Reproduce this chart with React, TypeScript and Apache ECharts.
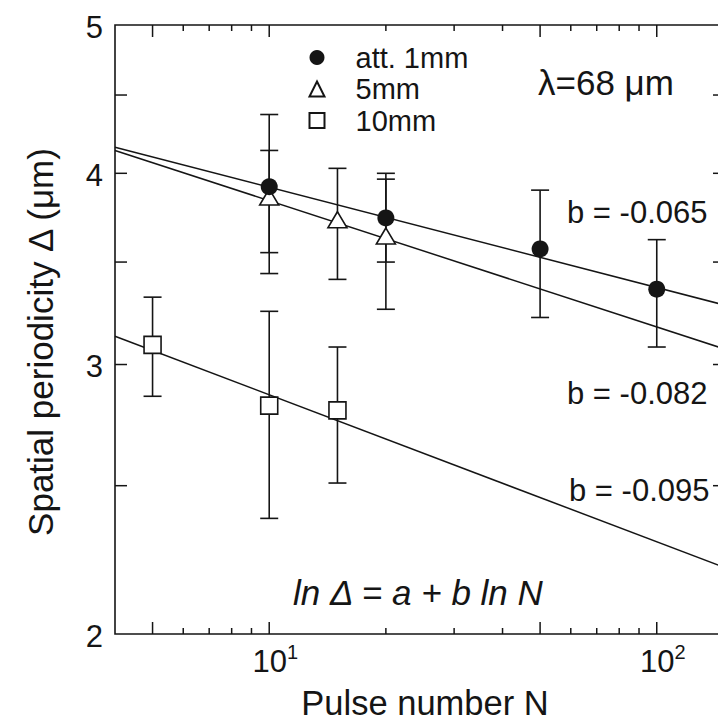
import React, { useEffect, useRef } from "react";
import * as echarts from "echarts";

// ---- data ----
const circleN = [10, 20, 50, 100];
const circleVal = [3.92, 3.74, 3.57, 3.36];
const circleLo = [3.44, 3.5, 3.22, 3.08];
const circleHi = [4.37, 4.0, 3.9, 3.62];

const triN = [10, 15, 20];
const triVal = [3.86, 3.73, 3.64];
const triLo = [3.55, 3.41, 3.26];
const triHi = [4.14, 4.03, 3.965];

const sqN = [5, 10, 15];
const sqVal = [3.09, 2.82, 2.8];
const sqLo = [2.86, 2.38, 2.51];
const sqHi = [3.32, 3.25, 3.08];

const fitN = [4, 150];
const fit1mm = [4.16, 3.28];
const fit5mm = [4.14, 3.07];
const fit10mm = [3.13, 2.21];

const seriesNames = ["att. 1mm", "5mm", "10mm"];
const slopeLabels = ["b = -0.065", "b = -0.082", "b = -0.095"];

const xMajorTicks = [5, 10, 50, 100];
const xMinorTicks = [6, 7, 8, 9, 20, 30, 40, 60, 70, 80, 90];
const yTicks = [2.5, 3, 3.5, 4, 4.5];
const yLabels = [2, 3, 4, 5];

const X_MIN = 4;
const X_MAX = 150;
const Y_MIN = 2;
const Y_MAX = 5;

const INK = "#151515";
const FONT = '"Liberation Sans", Arial, Helvetica, sans-serif';

export default function App() {
  const ref = useRef<HTMLDivElement>(null);

  useEffect(() => {
    if (!ref.current) return;
    const chart = echarts.init(ref.current, undefined, { renderer: "svg" });

    const errBar = (n: number[], lo: number[], hi: number[]) =>
      n.map((v, i) => [v, lo[i], hi[i]]);

    const errorSeries = (name: string, data: number[][]) => ({
      name,
      type: "custom",
      z: 3,
      silent: true,
      data,
      encode: { x: 0, y: [1, 2] },
      renderItem: (_p: any, api: any) => {
        const x = api.value(0);
        const top = api.coord([x, api.value(2)]);
        const bot = api.coord([x, api.value(1)]);
        const hw = 9;
        const st = { stroke: INK, lineWidth: 1.6 };
        return {
          type: "group",
          children: [
            { type: "line", shape: { x1: top[0], y1: top[1], x2: bot[0], y2: bot[1] }, style: st },
            { type: "line", shape: { x1: top[0] - hw, y1: top[1], x2: top[0] + hw, y2: top[1] }, style: st },
            { type: "line", shape: { x1: bot[0] - hw, y1: bot[1], x2: bot[0] + hw, y2: bot[1] }, style: st },
          ],
        };
      },
    });

    const isPow10 = (v: number) => {
      const lg = Math.log10(v);
      return Math.abs(lg - Math.round(lg)) < 1e-6;
    };

    const textStyle = (text: string, size: number, align: string, extra: any = {}) => ({
      text,
      fontSize: size,
      fontFamily: FONT,
      fill: INK,
      align,
      textAlign: align,
      verticalAlign: "middle",
      textVerticalAlign: "middle",
      ...extra,
    });

    const option: any = {
      animation: false,
      backgroundColor: "#fff",
      grid: {
        left: 115,
        top: 25,
        width: 610,
        height: 609,
        show: true,
        borderColor: INK,
        borderWidth: 1.6,
        backgroundColor: "transparent",
      },
      xAxis: {
        type: "log",
        logBase: 10,
        min: X_MIN,
        max: X_MAX,
        axisLine: { show: false },
        axisTick: { show: false },
        splitLine: { show: false },
        axisLabel: {
          margin: 8,
          padding: [0, 0, 0, 12],
          formatter: (v: number) =>
            isPow10(v) ? `{b|10}{s|${Math.round(Math.log10(v))}}` : "",
          rich: {
            b: { fontSize: 31, fontFamily: FONT, color: INK },
            s: { fontSize: 20, fontFamily: FONT, color: INK, padding: [0, 0, 18, 0] },
          },
        },
      },
      yAxis: {
        type: "log",
        logBase: 10,
        min: Y_MIN,
        max: Y_MAX,
        axisLine: { show: false },
        axisTick: { show: false },
        splitLine: { show: false },
        axisLabel: { show: false },
      },
      legend: {
        data: seriesNames,
        orient: "vertical",
        left: 308.5,
        top: 43,
        padding: 0,
        itemWidth: 15,
        itemHeight: 15,
        itemGap: 2.5,
        selectedMode: false,
        textStyle: {
          fontSize: 29,
          fontFamily: FONT,
          color: INK,
          lineHeight: 29,
          padding: [0, 0, 0, 26],
        },
      },
      series: [
        // x-axis ticks (bottom & top)
        {
          type: "custom",
          silent: true,
          z: 1,
          data: [
            ...xMajorTicks.map((v) => [v, Y_MIN, 12]),
            ...xMinorTicks.map((v) => [v, Y_MIN, 6]),
          ],
          renderItem: (_p: any, api: any) => {
            const v = api.value(0);
            const len = api.value(2);
            const b = api.coord([v, Y_MIN]);
            const t = api.coord([v, Y_MAX]);
            const st = { stroke: INK, lineWidth: 1.5 };
            return {
              type: "group",
              children: [
                { type: "line", shape: { x1: b[0], y1: b[1], x2: b[0], y2: b[1] - len }, style: st },
                { type: "line", shape: { x1: t[0], y1: t[1], x2: t[0], y2: t[1] + len }, style: st },
              ],
            };
          },
        },
        // y-axis ticks (left & right)
        {
          type: "custom",
          silent: true,
          z: 1,
          data: yTicks.map((v) => [X_MIN, v]),
          renderItem: (_p: any, api: any) => {
            const v = api.value(1);
            const l = api.coord([X_MIN, v]);
            const r = api.coord([X_MAX, v]);
            const st = { stroke: INK, lineWidth: 1.5 };
            return {
              type: "group",
              children: [
                { type: "line", shape: { x1: l[0], y1: l[1], x2: l[0] + 12, y2: l[1] }, style: st },
                { type: "line", shape: { x1: r[0], y1: r[1], x2: r[0] - 12, y2: r[1] }, style: st },
              ],
            };
          },
        },
        // y-axis tick labels
        {
          type: "custom",
          silent: true,
          z: 1,
          data: yLabels.map((v) => [X_MIN, v]),
          renderItem: (_p: any, api: any) => {
            const v = api.value(1);
            const l = api.coord([X_MIN, v]);
            return {
              type: "text",
              x: l[0] - 12,
              y: l[1] + 2,
              style: textStyle(String(v), 31, "right"),
            };
          },
        },
        // fit lines
        {
          type: "line",
          z: 2,
          silent: true,
          symbol: "none",
          data: fitN.map((n, i) => [n, fit1mm[i]]),
          lineStyle: { color: INK, width: 1.5 },
        },
        {
          type: "line",
          z: 2,
          silent: true,
          symbol: "none",
          data: fitN.map((n, i) => [n, fit5mm[i]]),
          lineStyle: { color: INK, width: 1.5 },
        },
        {
          type: "line",
          z: 2,
          silent: true,
          symbol: "none",
          data: fitN.map((n, i) => [n, fit10mm[i]]),
          lineStyle: { color: INK, width: 1.5 },
        },
        // error bars
        errorSeries("err1", errBar(circleN, circleLo, circleHi)),
        errorSeries("err5", errBar(triN, triLo, triHi)),
        errorSeries("err10", errBar(sqN, sqLo, sqHi)),
        // markers
        {
          name: seriesNames[1],
          type: "scatter",
          z: 4,
          symbol: "triangle",
          symbolSize: [19, 16],
          data: triN.map((n, i) => [n, triVal[i]]),
          itemStyle: { color: "#fff", borderColor: INK, borderWidth: 1.6, opacity: 1 },
        },
        {
          name: seriesNames[2],
          type: "scatter",
          z: 4,
          symbol: "rect",
          symbolSize: 17,
          data: sqN.map((n, i) => [n, sqVal[i]]),
          itemStyle: { color: "#fff", borderColor: INK, borderWidth: 1.6, opacity: 1 },
        },
        {
          name: seriesNames[0],
          type: "scatter",
          z: 5,
          symbol: "circle",
          symbolSize: 17,
          data: circleN.map((n, i) => [n, circleVal[i]]),
          itemStyle: { color: INK, opacity: 1 },
        },
      ],
      graphic: [
        { type: "text", x: 538, y: 82, style: textStyle("λ=68 μm", 35, "left") },
        ...slopeLabels.map((t, i) => ({
          type: "text",
          x: [567, 567, 569][i],
          y: [212, 393, 490][i],
          style: textStyle(t, 31, "left"),
        })),
        {
          type: "text",
          x: 293,
          y: 592,
          style: textStyle("ln Δ = a + b ln N", 35, "left", { fontStyle: "italic" }),
        },
        { type: "text", x: 425, y: 703, style: textStyle("Pulse number N", 34.5, "center") },
        {
          type: "text",
          x: 40,
          y: 342,
          rotation: Math.PI / 2,
          style: textStyle("Spatial periodicity Δ (μm)", 35, "center"),
        },
      ],
    };

    chart.setOption(option);
    return () => chart.dispose();
  }, []);

  return (
    <div
      style={{
        position: "fixed",
        left: 0,
        top: 0,
        width: 718,
        height: 722,
        overflow: "hidden",
        background: "#fff",
      }}
    >
      <div ref={ref} style={{ width: 740, height: 722 }} />
    </div>
  );
}
